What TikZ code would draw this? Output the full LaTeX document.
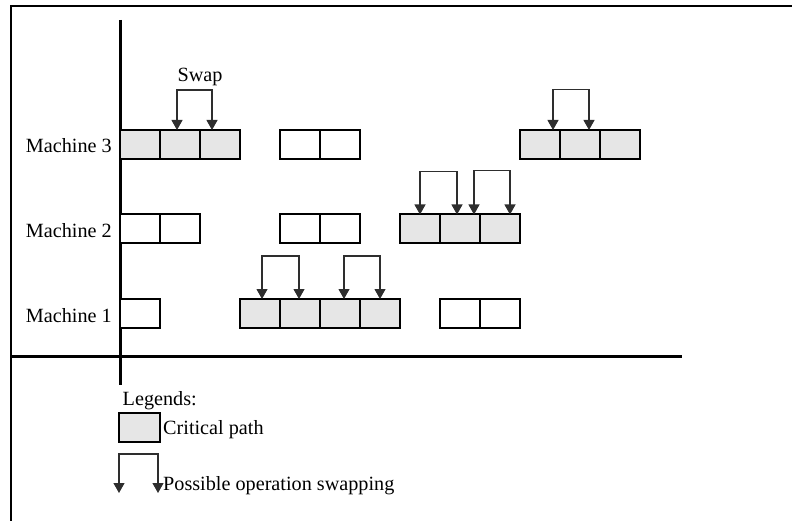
\documentclass[tikz,border=0pt]{standalone}
\usepackage{fontspec}
\setmainfont{Liberation Serif}
\usetikzlibrary{arrows.meta}
\definecolor{critfill}{HTML}{E6E6E6}
\definecolor{linegray}{HTML}{2E2E2E}

% swap bracket: node, x offset of first tip, node, x offset of second tip, bracket height
\newcommand\swapmark[5]{%
  \draw[swaparrow] ([xshift=#2pt]#1.north) |- ([xshift=#4pt,yshift=#5pt]#3.north) -- ([xshift=#4pt]#3.north);}

\begin{document}
\begin{tikzpicture}[x=1pt,y=-1pt,
  op/.style={draw=black,line width=2pt,minimum width=40pt,minimum height=29pt,
             inner sep=0pt,outer sep=0pt,anchor=north west,fill=white},
  crit/.style={op,fill=critfill},
  swaparrow/.style={draw=linegray,line width=1.1pt,
             {Triangle[length=10pt,width=11pt]}-{Triangle[length=10pt,width=11pt]}},
  axisline/.style={line width=3pt},
  lbl/.style={font=\fontsize{20.2}{24}\selectfont,inner sep=0pt}]
\useasboundingbox (0,0) rectangle (792,521);

% frame
\draw[line width=2pt] (11,521) -- (11,6) -- (792,6);

% axes
\coordinate (ytop) at (120,20);
\coordinate (ybot) at (120,385);
\coordinate (xl) at (10,356);
\coordinate (xr) at (682,356);
\draw[axisline] (ytop) -- (ybot);
\draw[axisline] (xl) -- (xr);

% machine labels
\node[lbl,anchor=base east] (lab3) at (112,153) {Machine 3};
\node[lbl,anchor=base east] (lab2) at (112,238) {Machine 2};
\node[lbl,anchor=base east] (lab1) at (112,322) {Machine 1};

% machine 3
\node[crit] (m3a1) at (120,130) {};
\node[crit] (m3a2) at (160,130) {};
\node[crit] (m3a3) at (200,130) {};
\node[op]   (m3b1) at (280,130) {};
\node[op]   (m3b2) at (320,130) {};
\node[crit] (m3c1) at (520,130) {};
\node[crit] (m3c2) at (560,130) {};
\node[crit] (m3c3) at (600,130) {};

% machine 2
\node[op]   (m2a1) at (120,214.5) {};
\node[op]   (m2a2) at (160,214.5) {};
\node[op]   (m2b1) at (280,214.5) {};
\node[op]   (m2b2) at (320,214.5) {};
\node[crit] (m2c1) at (400,214.5) {};
\node[crit] (m2c2) at (440,214.5) {};
\node[crit] (m2c3) at (480,214.5) {};

% machine 1
\node[op]   (m1a1) at (120,299) {};
\node[crit] (m1b1) at (240,299) {};
\node[crit] (m1b2) at (280,299) {};
\node[crit] (m1b3) at (320,299) {};
\node[crit] (m1b4) at (360,299) {};
\node[op]   (m1c1) at (440,299) {};
\node[op]   (m1c2) at (480,299) {};

% swap brackets
\swapmark{m3a2}{-3}{m3a3}{-8}{40}
\node[lbl,anchor=base] (swaplbl) at (200,82) {Swap};
\swapmark{m3c1}{13}{m3c2}{9}{40.5}
\swapmark{m2c1}{0}{m2c2}{-3}{43}
\swapmark{m2c2}{14}{m2c3}{10}{44}
\swapmark{m1b1}{2}{m1b2}{-1}{43}
\swapmark{m1b3}{4}{m1b4}{0}{43}

% legend
\node[lbl,anchor=base west] (leghead) at (122.5,405) {Legends:};
\node[crit,minimum width=41pt] (legbox) at (119,412.5) {};
\node[lbl,anchor=base west] (legcrit) at (163,434) {Critical path};
\coordinate (swl) at (119,493);
\coordinate (swr) at (158,493);
\draw[swaparrow] (swl) |- ([yshift=39pt]swr) -- (swr);
\node[lbl,anchor=base west] (legswap) at (163,490) {Possible operation swapping};
\end{tikzpicture}
\end{document}
